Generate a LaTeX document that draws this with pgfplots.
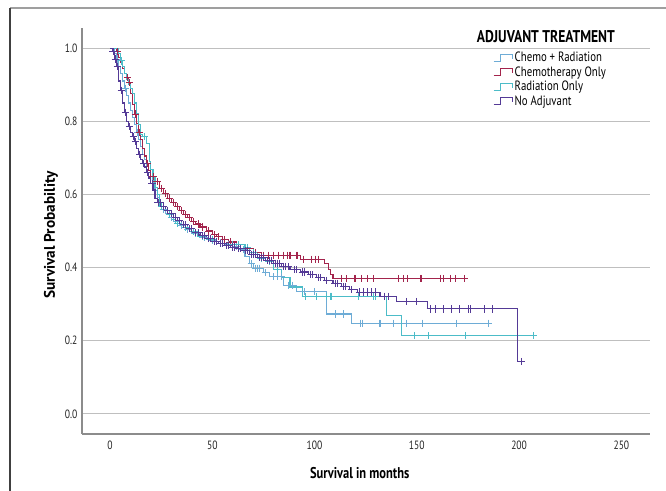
\documentclass[border=0pt]{standalone}
\usepackage{fontspec}
\setmainfont{PT Sans}[FakeStretch=0.8]
\newfontfamily\ylabfont{PT Sans}
\usepackage{pgfplots}
\pgfplotsset{compat=1.18}

\definecolor{chemrad}{RGB}{110,172,214}
\definecolor{chemo}{RGB}{163,36,76}
\definecolor{radio}{RGB}{76,188,200}
\definecolor{noadj}{RGB}{84,58,150}

\pgfplotsset{
  kmstep/.style={legend image code/.code={
      \draw[##1, line width=1bp] (0bp,-3.5bp) -- (7bp,-3.5bp) -- (7bp,3.5bp) -- (19bp,3.5bp) -- (19bp,-1bp);}},
  km/.style={const plot, no marks, line width=1.1bp, draw=#1},
  cens/.style={only marks, mark=+, mark size=3.6bp, mark options={draw=#1, line width=0.9bp}, forget plot},
}

\begin{document}
\begin{tikzpicture}
\path[use as bounding box] (0,0) rectangle (666bp,491bp);
\draw[gray!75, line width=1.6bp] (10bp,483bp) -- (666bp,483bp);
\draw[black!75, line width=1.4bp] (10bp,483bp) -- (10bp,0bp);

\begin{axis}[
  at={(82bp,57bp)}, anchor=south west,
  scale only axis, width=568bp, height=406bp,
  xmin=-13.7, xmax=264, ymin=-0.055, ymax=1.055,
  axis x line=bottom, axis y line=left,
  axis line style={-, draw=gray!90, line width=1.2bp},
  xtick={0,50,100,150,200,250},
  ytick={0,0.2,0.4,0.6,0.8,1.0},
  yticklabel style={/pgf/number format/fixed, /pgf/number format/fixed zerofill,
    /pgf/number format/precision=1, xshift=-1bp},
  /pgf/number format/assume math mode=true,
  major tick length=0pt,
  ymajorgrids, grid style={gray!50, line width=0.9bp},
  tick label style={font=\fontsize{12bp}{13bp}\selectfont, text=black!85},
  xticklabel style={yshift=-3bp},
  xlabel={Survival in months},
  xlabel style={at={(axis description cs:0.489,-0.095)}, anchor=center,
    font=\fontsize{15.6bp}{17bp}\selectfont\bfseries},
  ylabel={\ylabfont\fontsize{15.3bp}{17bp}\selectfont\bfseries Survival Probability},
  ylabel style={at={(axis description cs:-0.0546,0.49)}, anchor=center, rotate=0},
  legend style={at={(rel axis cs:0.7236,0.945)}, anchor=north west, draw=none, fill=none,
    font=\fontsize{13.5bp}{14bp}\selectfont, row sep=0.5bp, inner sep=0pt,
    nodes={inner sep=1.5bp}},
  legend cell align=left,
  clip=false,
]

% Chemo + Radiation
\addplot[km=chemrad, kmstep] coordinates {
(0,1.0)(2,0.985)(3,0.97)(4,0.95)(5,0.93)(6,0.91)(7,0.89)(8,0.87)(9,0.85)(10,0.83)
(11,0.81)(12,0.79)(13,0.77)(14,0.75)(15,0.73)(16,0.71)(17,0.695)(18,0.68)(19,0.665)
(20,0.65)(21,0.63)(22,0.61)(23,0.592)(24,0.575)(25,0.56)(27,0.548)(29,0.537)(31,0.527)
(34,0.516)(37,0.505)(40,0.494)(44,0.483)(48,0.474)(52,0.467)(56,0.462)(60,0.457)
(64,0.45)(66,0.43)(68,0.41)(70,0.398)(75,0.386)(78,0.375)(85,0.352)(91,0.334)
(106,0.273)(118,0.248)(184.8,0.248)};
\addlegendentry{Chemo + Radiation}

% Chemotherapy Only
\addplot[km=chemo, kmstep] coordinates {
(0,1.0)(3,0.99)(4,0.975)(5,0.96)(6,0.945)(7,0.93)(8,0.92)(9,0.905)(10,0.875)(11,0.845)
(12,0.82)(13,0.795)(14,0.77)(15,0.75)(16,0.725)(17,0.705)(18,0.685)(19,0.665)(20,0.65)
(22,0.635)(24,0.617)(26,0.603)(28,0.59)(30,0.578)(32,0.566)(34,0.556)(36,0.546)
(38,0.536)(40,0.527)(42,0.519)(44,0.511)(47,0.5)(50,0.49)(52,0.484)(55,0.477)(58,0.47)
(62,0.462)(66,0.452)(70,0.442)(74,0.434)(93,0.423)(105,0.41)(107,0.395)(108,0.382)
(109,0.37)(174.4,0.37)};
\addlegendentry{Chemotherapy Only}

% Radiation Only
\addplot[km=radio, kmstep] coordinates {
(0,1.0)(4,0.985)(5,0.965)(6,0.95)(7,0.93)(8,0.915)(9,0.9)(10,0.89)(11,0.876)(12,0.85)
(13,0.82)(14,0.79)(15,0.765)(16,0.758)(18,0.74)(19.5,0.69)(20,0.667)(21,0.645)(22,0.62)
(23,0.6)(24,0.566)(26,0.555)(28,0.545)(30,0.532)(32,0.521)(35,0.51)(39,0.498)(43,0.486)
(47,0.476)(52,0.466)(58,0.462)(66,0.455)(68,0.44)(72,0.425)(76,0.416)(80,0.395)
(84,0.372)(88,0.347)(94,0.322)(135.3,0.269)(142.6,0.214)(207,0.214)};
\addlegendentry{Radiation Only}

% No Adjuvant
\addplot[km=noadj, kmstep] coordinates {
(0,1.0)(1,0.99)(2,0.97)(3,0.95)(4,0.91)(5,0.885)(6,0.85)(7,0.825)(8,0.80)(9,0.785)
(10,0.77)(11,0.758)(12,0.745)(13,0.725)(14,0.71)(15,0.695)(16,0.685)(17,0.675)(18,0.66)
(19,0.645)(20,0.63)(21,0.612)(22,0.59)(23,0.578)(25,0.567)(27,0.557)(29,0.548)(31,0.538)
(33,0.528)(35,0.518)(38,0.506)(41,0.496)(44,0.488)(47,0.48)(50,0.472)(53,0.466)(56,0.46)
(59,0.456)(62,0.452)(65,0.446)(68,0.436)(72,0.428)(76,0.42)(80,0.412)(84,0.403)(88,0.395)
(93,0.388)(97,0.38)(101,0.372)(105,0.365)(109,0.357)(113,0.348)(117,0.339)(121,0.333)
(132,0.322)(140,0.307)(155,0.287)(199,0.143)(201.3,0.143)};
\addlegendentry{No Adjuvant}

% censored observations
\addplot[cens=chemrad] coordinates {
(3.5,0.97)(7.5,0.89)(13.5,0.77)(26,0.56)(30,0.537)(35,0.516)(38,0.505)(42,0.494)
(46,0.483)(50,0.474)(54,0.467)(58,0.462)(62,0.457)(65,0.45)(69,0.41)(71,0.398)
(72,0.398)(73,0.398)(76,0.386)(80,0.375)(82,0.375)(84,0.375)(87,0.352)(89,0.352)
(95,0.334)(100,0.334)(110,0.273)(114,0.273)(122.2,0.248)(123.6,0.248)(131.7,0.248)
(132.4,0.248)(138.6,0.248)(145.1,0.248)(152.9,0.248)(169.2,0.248)(184.8,0.248)};
\addplot[cens=chemo] coordinates {
(3.5,0.99)(8.5,0.92)(9.5,0.905)(12.5,0.82)(14.5,0.77)(18.5,0.685)(21,0.65)(23,0.635)
(25,0.617)(27,0.603)(29,0.59)(31,0.578)(33,0.566)(35,0.556)(37,0.546)(39,0.536)
(41,0.527)(43,0.519)(45,0.511)(48,0.5)(51,0.49)(53,0.484)(56,0.477)(59,0.47)(63,0.462)
(67,0.452)(71,0.442)(75,0.434)(77.5,0.434)(80,0.434)(82.5,0.434)(85,0.434)(86.8,0.434)
(87.6,0.434)(88.4,0.434)(91,0.434)(91.8,0.434)(94.5,0.423)(98.6,0.423)(100.2,0.423)
(101.9,0.423)(113.3,0.37)(115.7,0.37)(119.3,0.37)(119.8,0.37)(123.1,0.37)(125.8,0.37)
(128.7,0.37)(141,0.37)(143.4,0.37)(145.4,0.37)(151.6,0.37)(152.4,0.37)(161.4,0.37)
(163,0.37)(166.3,0.37)(168.7,0.37)(173.5,0.37)};
\addplot[cens=radio] coordinates {
(5.5,0.965)(17,0.758)(25,0.566)(29,0.545)(33,0.521)(37,0.51)(41,0.498)(45,0.486)
(50,0.476)(55,0.466)(60,0.462)(63,0.462)(67,0.455)(70,0.44)(74,0.425)(78,0.416)
(82,0.395)(95.4,0.322)(101,0.322)(106,0.322)(107.6,0.322)(108.4,0.322)(121.4,0.322)
(128.7,0.322)(129.6,0.322)(149,0.214)(155.7,0.214)(173.6,0.214)(207,0.214)};
\addplot[cens=noadj] coordinates {
(1.5,0.99)(2.5,0.97)(3.5,0.95)(5.5,0.885)(7.5,0.825)(9.5,0.785)(11.5,0.758)(12.5,0.745)
(14.5,0.71)(16.5,0.685)(18.5,0.66)(20.5,0.63)(23.5,0.578)(24.5,0.578)(26,0.567)(28,0.557)
(30,0.548)(32,0.538)(34,0.528)(36,0.518)(37,0.518)(39,0.506)(40,0.506)(42,0.496)
(43,0.496)(45,0.488)(46,0.488)(48,0.48)(49,0.48)(51,0.472)(52,0.472)(54,0.466)(55,0.466)
(57,0.46)(58,0.46)(60,0.456)(61,0.456)(63,0.452)(64,0.452)(66,0.446)(67,0.446)(69,0.436)
(70,0.436)(71,0.436)(73,0.428)(74,0.428)(75,0.428)(77,0.42)(78,0.42)(79,0.42)(81,0.412)
(82,0.412)(83,0.412)(85,0.403)(86,0.403)(87,0.403)(90,0.395)(91,0.395)(94,0.388)
(95,0.388)(98,0.38)(99,0.38)(102,0.372)(103,0.372)(106,0.365)(110,0.357)(111,0.357)
(114,0.348)(115,0.348)(118,0.339)(122,0.333)(124,0.333)(126,0.333)(128,0.333)(130,0.333)
(134,0.322)(136,0.322)(145,0.307)(150,0.307)(156.5,0.287)(159,0.287)(163,0.287)
(167,0.287)(171,0.287)(175,0.287)(176,0.287)(183,0.287)(187,0.287)(201.3,0.143)};

\node[anchor=west, inner sep=0pt, font=\fontsize{17bp}{18bp}\selectfont\bfseries]
  at (rel axis cs:0.695,0.980) {ADJUVANT TREATMENT};
\end{axis}
\end{tikzpicture}
\end{document}
